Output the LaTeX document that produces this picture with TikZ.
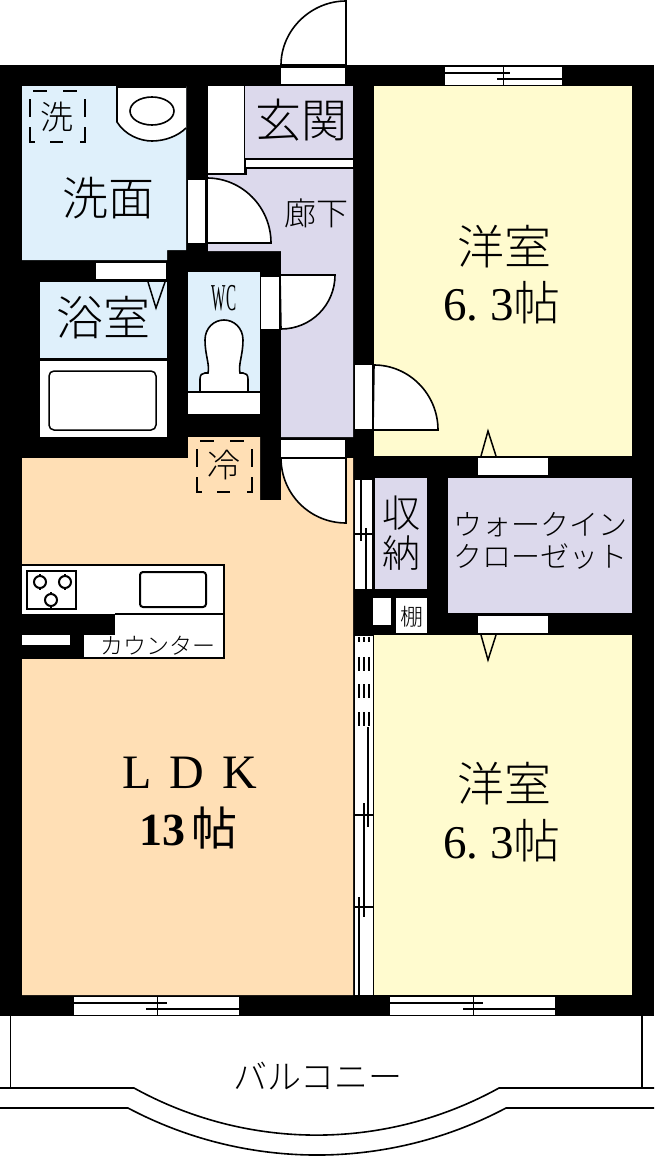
\documentclass[tikz,border=0pt]{standalone}
\usepackage{fontspec}
\usepackage{xcolor}
\setmainfont{Liberation Serif}
\newfontfamily\jpfont{Noto Sans CJK JP}[UprightFont={* Light},BoldFont={*}]
\newfontfamily\latinfont{Liberation Serif}
\newfontfamily\widefont[LetterSpace=38]{Liberation Serif}
\newfontfamily\narrowfont[FakeStretch=0.4]{Liberation Serif}
\definecolor{wetblue}{HTML}{DFF0FB}
\definecolor{hallviolet}{HTML}{DCD9EC}
\definecolor{roomyellow}{HTML}{FFFBCF}
\definecolor{ldkorange}{HTML}{FFDFB5}

\begin{document}
\begin{tikzpicture}[x=1pt,y=-1pt]

% Stili per il disegno della pianta
\tikzset{
  thinline/.style={draw=black,line width=1.5pt},
  doorleaf/.style={fill=white,draw=black,line width=1.6pt},
  heavyline/.style={draw=black,line width=2pt},
  bigtext/.style={inner sep=0pt,font=\jpfont\fontsize{46}{46}\selectfont},
  midtext/.style={inner sep=0pt,align=center,font=\jpfont\fontsize{38}{40}\selectfont},
  smalltext/.style={inner sep=0pt,align=center,font=\jpfont\fontsize{29}{32}\selectfont},
  tinytext/.style={inner sep=0pt,font=\jpfont\fontsize{23}{23}\selectfont}
}

\useasboundingbox (0,0) rectangle (654,1156);

% --- Muri ---
\fill[black] (0,65) rectangle (654,1016);

% --- Stanze ---
\fill[wetblue] (22,86) -- (186,86) -- (186,250) -- (167,250) -- (167,260) -- (22,260) -- cycle;
\fill[wetblue] (40,282) rectangle (167,358);
\fill[wetblue] (188,272) rectangle (260,391);
\fill[hallviolet] (245,86) rectangle (353,158);
\fill[hallviolet] (208,175) -- (247,175) -- (247,169) -- (353,169) -- (353,437) -- (281,437) -- (281,251) -- (208,251) -- cycle;
\fill[hallviolet] (375,478) rectangle (427,589);
\fill[hallviolet] (448,478) rectangle (632,613);
\fill[roomyellow] (374,86) rectangle (632,456);
\fill[roomyellow] (374,635) rectangle (632,995);
\fill[ldkorange] (22,458) -- (188,458) -- (188,437) -- (260,437) -- (260,500) -- (281,500) -- (281,458) -- (353,458) -- (353,995) -- (22,995) -- cycle;

% --- Parti bianche ---
\fill[white] (208,86) rectangle (244,173);
\fill[white] (246,160) rectangle (353,167);
\fill[white] (188,180) rectangle (205,243);
\fill[white] (96,263) rectangle (166,279);
\fill[white] (40,361) rectangle (167,437);
\fill[white] (188,393) rectangle (260,414);
\fill[white] (261,277) rectangle (279,329);
\fill[white] (281,440) rectangle (345,457);
\fill[white] (281,68) rectangle (345,84);
\fill[white] (355,365) rectangle (372,429);
\fill[white] (478,458) rectangle (548,475);
\fill[white] (478,616) rectangle (548,633);
\fill[white] (373,598) rectangle (391,625);
\fill[white] (396,598) rectangle (427,633);

% --- Porte ---
\draw[doorleaf] (346,65) -- (346,1) .. controls (311,1) and (281,30) .. (281,65) -- cycle;
\draw[doorleaf] (207,178) .. controls (242,178) and (271,207) .. (271,243) -- (207,243) -- cycle;
\draw[doorleaf] (280,275) -- (335,275) .. controls (335,305) and (311,329) .. (281,329) -- cycle;
\draw[doorleaf] (346,458) -- (346,523) .. controls (310,523) and (281,494) .. (281,458) -- cycle;
\draw[doorleaf] (373,430) -- (438,430) .. controls (438,394) and (409,365) .. (374,365) -- cycle;

% Segni a V delle porte
\draw[thinline] (148,282) -- (156,308) -- (165,282);
\draw[thinline] (481,456) -- (488,431) -- (496,456);
\draw[thinline] (481,635) -- (488,660) -- (496,635);

% --- Finestre ---
\foreach \wl/\wm/\wr/\wt/\wa/\wb in {74/157/239/997/167/146,390/473/555/997/483/463,445/503/562/67/510/497}{
  \fill[white] (\wl,\wt) rectangle (\wr,\wt+18);
  \draw[thinline] (\wl,\wt+6) -- (\wa,\wt+6);
  \draw[heavyline] (\wb,\wt+12) -- (\wr,\wt+12);
  \draw[line width=1pt] (\wm,\wt) -- (\wm,\wt+18);
}

% --- Ripostiglio: ante scorrevoli ---
\fill[white] (355,480) rectangle (372,589);
\draw[thinline] (361,480) -- (361,541);
\draw[thinline] (366,528) -- (366,589);
\draw[thinline] (355,534) -- (372,534);

% --- Vetrata tra LDK e camera ---
\fill[white] (355,636) rectangle (372.5,995);
\foreach \bx in {359,364,369}{
  \draw[heavyline] (\bx,637) -- (\bx,642);
  \foreach \by in {657,684,712}{
    \draw[heavyline] (\bx,\by) -- (\bx,\by+14);
  }
}
\draw[thinline] (368,727) -- (368,827);
\draw[thinline] (364,803) -- (364,917);
\draw[thinline] (359,897) -- (359,995);
\draw[thinline] (354,815) -- (373,815);
\draw[thinline] (354,907) -- (373,907);

% --- Lavabo ---
\draw[doorleaf] (186,87) -- (117,87) -- (117,122) .. controls (125,135) and (140,141) .. (152,141) .. controls (165,141) and (178,136) .. (186,128);
\draw[line width=1.6pt] (152,111) ellipse (22 and 14);

% --- Vasca ---
\draw[thinline,rounded corners=5pt] (49,371) rectangle (156,430);

% --- WC ---
\draw[doorleaf] (200,392) -- (200,379) .. controls (200,375) and (202,373) .. (205,373) -- (208,373) .. controls (210,365) and (205,355) .. (205,340) .. controls (205,328) and (214,320) .. (224,320) .. controls (234,320) and (243,328) .. (243,340) .. controls (243,355) and (238,365) .. (240,373) -- (243,373) .. controls (246,373) and (248,375) .. (248,379) -- (248,392) -- cycle;
\draw[thinline] (188,392) -- (260,392);

% --- Cucina ---
\fill[white] (22,565) rectangle (224,614);
\fill[white] (115,614) -- (224,614) -- (224,658) -- (84,658) -- (84,635) -- (115,635) -- cycle;
\draw[heavyline] (22,565) -- (224,565) -- (224,658) -- (84,658);
\draw[thinline] (115,614) -- (224,614);
\fill[black] (22,614) rectangle (115,635);
\fill[black] (22,635) rectangle (84,659);
\fill[white] (22,635) rectangle (70,645);
\draw[heavyline] (27,571) rectangle (76,609);
\foreach \bx/\by in {40/582,65/582,51/600}{
  \draw[heavyline] (\bx,\by) circle (6);
  \draw[thinline] (\bx,\by-8) -- (\bx,\by-6) (\bx,\by+6) -- (\bx,\by+8);
}
\draw[heavyline,rounded corners=3pt] (140,572) rectangle (206,607);

% --- Riquadri tratteggiati lavatrice e frigo ---
\foreach \bx/\by in {30/91,197/441}{
  \begin{scope}[shift={(\bx,\by)}]
    \draw[thinline] (3,0) -- (17,0) (33,0) -- (47,0);
    \draw[thinline] (0,8) -- (0,26) (55,8) -- (55,26);
    \draw[thinline] (0,36) -- (0,51) -- (5,51);
    \draw[thinline] (55,36) -- (55,51) -- (50,51);
    \draw[thinline] (20,51) -- (33,51);
  \end{scope}
}

% --- Balcone ---
\draw[thinline] (10.5,1016) -- (10.5,1088);
\draw[thinline] (642,1016) -- (642,1088);
\draw[line width=1.6pt] (0,1088) -- (134,1088) .. controls (247.7,1150.8) and (385.3,1150.8) .. (499,1088) -- (654,1088);
\draw[line width=1.6pt] (0,1108) -- (128,1108) .. controls (246.3,1170.7) and (387.7,1170.7) .. (506,1108) -- (654,1108);

% --- Testi ---
\node[tinytext,font=\jpfont\fontsize{33}{33}\selectfont] (washtag) at (57,117) {洗};
\node[tinytext,font=\jpfont\fontsize{33}{33}\selectfont] (fridgetag) at (224,465) {冷};
\node[bigtext] (washroom) at (108,198) {洗面};
\node[bigtext] (entrance) at (301,120) {玄関};
\node[tinytext,font=\jpfont\fontsize{32}{32}\selectfont] (hall) at (316,213) {廊下};
\node[midtext,font=\jpfont\fontsize{47}{47}\selectfont] (bath) at (103,318) {浴室};
\node[inner sep=0pt,font=\narrowfont\fontsize{38}{38}\selectfont] (toilet) at (224,298) {WC};
\node[midtext] (storage) at (401,533) {収\\納};
\node[smalltext] (closet) at (540,541) {ウォークイン\\クローゼット};
\node[tinytext] (shelf) at (412,617) {棚};
\node[tinytext] (counter) at (158,646) {カウンター};
\node[bigtext,font=\jpfont\fontsize{47}{47}\selectfont] (room1) at (504,247) {洋室};
\node[inner sep=0pt] (size1) at (502,303) {\fontsize{47}{47}\selectfont\latinfont 6.\kern12pt 3\jpfont 帖};
\node[bigtext,font=\jpfont\fontsize{47}{47}\selectfont] (room2) at (504,784) {洋室};
\node[inner sep=0pt] (size2) at (502,841) {\fontsize{47}{47}\selectfont\latinfont 6.\kern12pt 3\jpfont 帖};
\node[inner sep=0pt,font=\widefont\fontsize{48}{48}\selectfont] (ldk) at (190,773) {LDK};
\node[inner sep=0pt] (ldksize) at (188,828) {\fontsize{46}{46}\selectfont\bfseries\latinfont 13\kern6pt\jpfont 帖};
\node[tinytext,font=\jpfont\fontsize{34}{34}\selectfont] (balcony) at (318,1076) {バルコニー};
\end{tikzpicture}
\end{document}
